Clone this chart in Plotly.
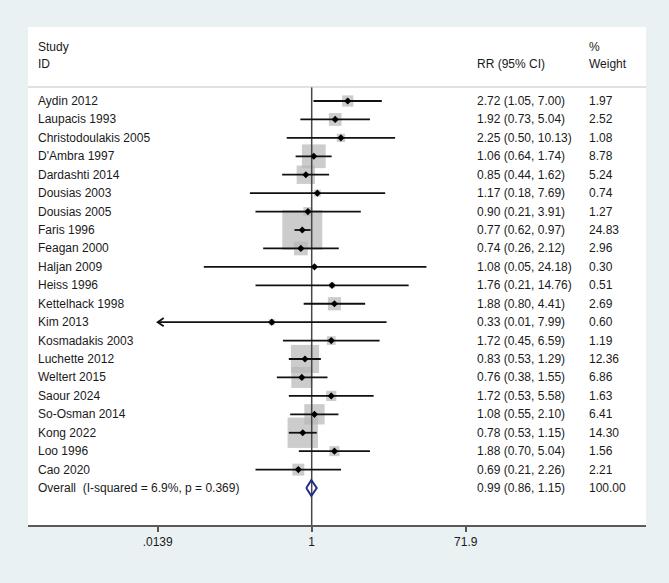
import math
import plotly.graph_objects as go

# ---------------- data ----------------
studies = ["Aydin 2012", "Laupacis 1993", "Christodoulakis 2005", "D'Ambra 1997",
           "Dardashti 2014", "Dousias 2003", "Dousias 2005", "Faris 1996",
           "Feagan 2000", "Haljan 2009", "Heiss 1996", "Kettelhack 1998",
           "Kim 2013", "Kosmadakis 2003", "Luchette 2012", "Weltert 2015",
           "Saour 2024", "So-Osman 2014", "Kong 2022", "Loo 1996", "Cao 2020"]
rr = [2.72, 1.92, 2.25, 1.06, 0.85, 1.17, 0.90, 0.77, 0.74, 1.08, 1.76, 1.88,
      0.33, 1.72, 0.83, 0.76, 1.72, 1.08, 0.78, 1.88, 0.69]
lo = [1.05, 0.73, 0.50, 0.64, 0.44, 0.18, 0.21, 0.62, 0.26, 0.05, 0.21, 0.80,
      0.01, 0.45, 0.53, 0.38, 0.53, 0.55, 0.53, 0.70, 0.21]
hi = [7.00, 5.04, 10.13, 1.74, 1.62, 7.69, 3.91, 0.97, 2.12, 24.18, 14.76, 4.41,
      7.99, 6.59, 1.29, 1.55, 5.58, 2.10, 1.15, 5.04, 2.26]
weight = [1.97, 2.52, 1.08, 8.78, 5.24, 0.74, 1.27, 24.83, 2.96, 0.30, 0.51, 2.69,
          0.60, 1.19, 12.36, 6.86, 1.63, 6.41, 14.30, 1.56, 2.21]

overall_label = "Overall\u00a0 (I-squared = 6.9%, p = 0.369)"
overall_rr, overall_lo, overall_hi, overall_weight = 0.99, 0.86, 1.15, 100.00

tick_vals = [0.0139, 1, 71.9]
tick_text = [".0139", "1", "71.9"]

# ---------------- geometry / style ----------------
W, H = 669, 583
ML, MR, MT, MB = 28, 23, 27, 58
X_RANGE = [-3.4205, 4.0306]          # log10 units
Y_RANGE = [23.006, -4.015]           # row units (reversed)
PX_PER_DEC = (W - ML - MR) / (X_RANGE[1] - X_RANGE[0])
PX_PER_ROW = (H - MT - MB) / (Y_RANGE[0] - Y_RANGE[1])
X_MIN = tick_vals[0]                 # CI clip point (arrow drawn beyond)

FONT = "Liberation Sans, Arial, sans-serif"
TXT = "#1a1a1a"
BOX = "#b6b6b6"
MAX_SIDE = 40.0

n = len(studies)
rows = list(range(n))
overall_row = n

fig = go.Figure()

# weight boxes
sides = [MAX_SIDE * math.sqrt(w / max(weight)) for w in weight]
fig.add_trace(go.Scatter(x=rr, y=rows, mode="markers",
                         marker=dict(symbol="square", size=sides, color=BOX,
                                     line=dict(width=0)),
                         hoverinfo="skip"))

# null line
fig.add_trace(go.Scatter(x=[1, 1], y=[-0.76, Y_RANGE[0]], mode="lines",
                         line=dict(color="#4a4646", width=1.5),
                         hoverinfo="skip"))

# CI lines
cx, cy = [], []
arrows_x, arrows_y = [], []
for i in rows:
    l = max(lo[i], X_MIN)
    cx += [l, hi[i], None]
    cy += [i, i, None]
    if lo[i] < X_MIN:
        arm_dx = 10 ** (6.0 / PX_PER_DEC)
        arm_dy = 4.2 / PX_PER_ROW
        arrows_x += [X_MIN * arm_dx, X_MIN, X_MIN * arm_dx, None]
        arrows_y += [i - arm_dy, i, i + arm_dy, None]
fig.add_trace(go.Scatter(x=cx, y=cy, mode="lines",
                         line=dict(color="#111111", width=1.8), hoverinfo="skip"))
fig.add_trace(go.Scatter(x=arrows_x, y=arrows_y, mode="lines",
                         line=dict(color="#111111", width=1.8), hoverinfo="skip"))

# point estimates
fig.add_trace(go.Scatter(x=rr, y=rows, mode="markers",
                         marker=dict(symbol="diamond", size=5.5, color="#000000"),
                         hoverinfo="skip"))

# overall diamond
dh = 8.0 / PX_PER_ROW
fig.add_trace(go.Scatter(
    x=[overall_lo, overall_rr, overall_hi, overall_rr, overall_lo],
    y=[overall_row, overall_row - dh, overall_row, overall_row + dh, overall_row],
    mode="lines", line=dict(color="#1f2d8a", width=2), hoverinfo="skip"))

# ---------------- text columns ----------------
def px_to_paper(px):
    return (px - ML) / (W - ML - MR)

X_LABEL = px_to_paper(36)
X_RR = px_to_paper(475)
X_WT = px_to_paper(587)

annotations = []
def add_text(x, y, text):
    annotations.append(dict(x=x, y=y, xref="paper", yref="y", text=text,
                            showarrow=False, xanchor="left", yanchor="middle",
                            font=dict(family=FONT, size=12, color=TXT)))

add_text(X_LABEL, -2.93, "Study")
add_text(X_LABEL, -2.0, "ID")
add_text(X_RR, -2.0, "RR (95% CI)")
add_text(X_WT, -2.93, "%")
add_text(X_WT, -2.0, "Weight")

for i in rows:
    add_text(X_LABEL, i, studies[i])
    add_text(X_RR, i, f"{rr[i]:.2f} ({lo[i]:.2f}, {hi[i]:.2f})")
    add_text(X_WT, i, f"{weight[i]:.2f}")

add_text(X_LABEL, overall_row, overall_label)
add_text(X_RR, overall_row, f"{overall_rr:.2f} ({overall_lo:.2f}, {overall_hi:.2f})")
add_text(X_WT, overall_row, f"{overall_weight:.2f}")

shapes = [dict(type="line", xref="paper", yref="y", x0=0, x1=1, y0=-0.76, y1=-0.76,
               line=dict(color="#c4c4c4", width=1))]

fig.update_layout(
    width=W, height=H, autosize=False,
    margin=dict(l=ML, r=MR, t=MT, b=MB, pad=0),
    paper_bgcolor="#eaf1f3", plot_bgcolor="#ffffff",
    showlegend=False, hovermode=False,
    annotations=annotations, shapes=shapes,
    font=dict(family=FONT, size=12, color=TXT),
)
fig.update_xaxes(type="log", range=X_RANGE, tickvals=tick_vals, ticktext=tick_text,
                 ticks="outside", ticklen=5, tickwidth=1.5, tickcolor="#555555",
                 showline=True, linecolor="#5a5a5a", linewidth=1.8,
                 showgrid=False, zeroline=False,
                 tickfont=dict(family=FONT, size=12, color=TXT))
fig.update_yaxes(range=Y_RANGE, visible=False, showgrid=False, zeroline=False)

fig.write_html("out.html")
